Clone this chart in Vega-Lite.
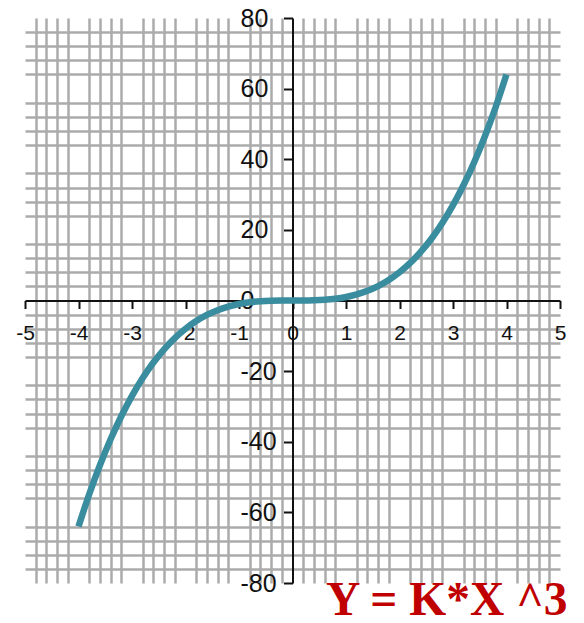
{
  "$schema": "https://vega.github.io/schema/vega-lite/v6.json",
  "width": 535,
  "height": 565,
  "autosize": {"type": "none"},
  "padding": {"left": 25, "top": 18, "right": 24, "bottom": 40},
  "background": "white",
  "config": {"view": {"stroke": null}},
  "resolve": {"axis": {"x": "independent", "y": "independent"}},
  "datasets": {
    "curve": [
      {"x": -4.0, "y": -64.0}, {"x": -3.8, "y": -54.872}, {"x": -3.6, "y": -46.656},
      {"x": -3.4, "y": -39.304}, {"x": -3.2, "y": -32.768}, {"x": -3.0, "y": -27.0},
      {"x": -2.8, "y": -21.952}, {"x": -2.6, "y": -17.576}, {"x": -2.4, "y": -13.824},
      {"x": -2.2, "y": -10.648}, {"x": -2.0, "y": -8.0}, {"x": -1.8, "y": -5.832},
      {"x": -1.6, "y": -4.096}, {"x": -1.4, "y": -2.744}, {"x": -1.2, "y": -1.728},
      {"x": -1.0, "y": -1.0}, {"x": -0.8, "y": -0.512}, {"x": -0.6, "y": -0.216},
      {"x": -0.4, "y": -0.064}, {"x": -0.2, "y": -0.008}, {"x": 0.0, "y": 0.0},
      {"x": 0.2, "y": 0.008}, {"x": 0.4, "y": 0.064}, {"x": 0.6, "y": 0.216},
      {"x": 0.8, "y": 0.512}, {"x": 1.0, "y": 1.0}, {"x": 1.2, "y": 1.728},
      {"x": 1.4, "y": 2.744}, {"x": 1.6, "y": 4.096}, {"x": 1.8, "y": 5.832},
      {"x": 2.0, "y": 8.0}, {"x": 2.2, "y": 10.648}, {"x": 2.4, "y": 13.824},
      {"x": 2.6, "y": 17.576}, {"x": 2.8, "y": 21.952}, {"x": 3.0, "y": 27.0},
      {"x": 3.2, "y": 32.768}, {"x": 3.4, "y": 39.304}, {"x": 3.6, "y": 46.656},
      {"x": 3.8, "y": 54.872}, {"x": 4.0, "y": 64.0}
    ],
    "label": [
      {"x": 5.14, "y": -89.1, "text": "Y = K*X ^3"}
    ]
  },
  "layer": [
    {
      "data": {"name": "curve"},
      "mark": {"type": "line", "opacity": 0, "strokeWidth": 1},
      "encoding": {
        "x": {"field": "x", "type": "quantitative",
              "scale": {"domain": [-5, 5], "nice": false, "zero": false},
              "axis": {
                "orient": "top", "title": null, "grid": true,
                "gridColor": "#ABABAB", "gridWidth": 2.5, "gridOpacity": 1,
                "domain": false, "ticks": false, "labels": false,
                "values": [-4.8, -4.6, -4.4, -4.2, -3.8, -3.6, -3.4, -3.2,
                           -2.8, -2.6, -2.4, -2.2, -1.8, -1.6, -1.4, -1.2,
                           -0.8, -0.6, -0.4, -0.2, 0.2, 0.4, 0.6, 0.8,
                           1.2, 1.4, 1.6, 1.8, 2.2, 2.4, 2.6, 2.8,
                           3.2, 3.4, 3.6, 3.8, 4.2, 4.4, 4.6, 4.8]
              }},
        "y": {"field": "y", "type": "quantitative",
              "scale": {"domain": [-80, 80], "nice": false, "zero": false},
              "axis": {
                "orient": "right", "title": null, "grid": true,
                "gridColor": "#ABABAB", "gridWidth": 2.5, "gridOpacity": 1,
                "domain": false, "ticks": false, "labels": false,
                "values": [-76, -72, -68, -64, -56, -52, -48, -44,
                           -36, -32, -28, -24, -16, -12, -8, -4,
                           4, 8, 12, 16, 24, 28, 32, 36,
                           44, 48, 52, 56, 64, 68, 72, 76]
              }}
      }
    },
    {
      "data": {"name": "curve"},
      "mark": {"type": "line", "color": "#3A8C9F", "strokeWidth": 6.5, "interpolate": "monotone"},
      "encoding": {
        "x": {"field": "x", "type": "quantitative",
              "axis": {
                "orient": "bottom", "title": null, "grid": false, "offset": -282.5,
                "values": [-5, -4, -3, -2, -1, 0, 1, 2, 3, 4, 5],
                "labelExpr": "'' + datum.value",
                "domainColor": "#111111", "domainWidth": 2,
                "tickColor": "#111111", "tickWidth": 2, "tickSize": 8,
                "labelFont": "Liberation Sans", "labelFontSize": 21, "labelColor": "#111111",
                "labelPadding": 14, "labelFlush": false, "labelOverlap": false
              }},
        "y": {"field": "y", "type": "quantitative",
              "axis": {
                "orient": "left", "title": null, "grid": false, "offset": -267.5,
                "values": [-80, -60, -40, -20, 0, 20, 40, 60, 80],
                "labelExpr": "'' + datum.value",
                "domainColor": "#111111", "domainWidth": 2,
                "tickColor": "#111111", "tickWidth": 2, "tickSize": 9,
                "labelFont": "Liberation Sans", "labelFontSize": 25, "labelColor": "#111111",
                "labelAlign": "left", "labelBaseline": "middle",
                "labelPadding": 43.5, "labelFlush": false, "labelOverlap": false
              }}
      }
    },
    {
      "data": {"name": "label"},
      "mark": {"type": "text", "align": "right", "baseline": "alphabetic",
               "font": "Liberation Serif", "fontWeight": "bold", "fontSize": 47.5,
               "color": "#C00000"},
      "encoding": {
        "x": {"field": "x", "type": "quantitative", "axis": null},
        "y": {"field": "y", "type": "quantitative", "axis": null},
        "text": {"field": "text"}
      }
    }
  ]
}
